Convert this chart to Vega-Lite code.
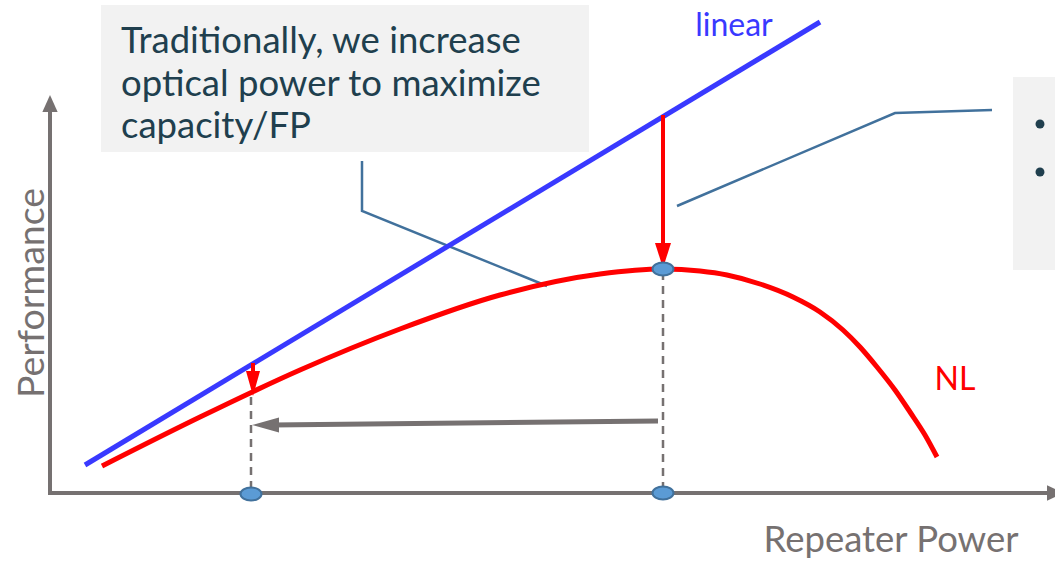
{
  "$schema": "https://vega.github.io/schema/vega-lite/v6.json",
  "width": 1055,
  "height": 561,
  "autosize": {"type": "none"},
  "padding": 0,
  "background": "white",
  "config": {"view": {"stroke": null}},
  "datasets": {
    "boxes": [
      {"x": 101, "x2": 589, "y": 5, "y2": 152},
      {"x": 1013, "x2": 1060, "y": 77, "y2": 270}
    ],
    "boxText": [
      {"x": 121, "y": 53, "text": "Traditionally, we increase"},
      {"x": 121, "y": 96, "text": "optical power to maximize"},
      {"x": 121, "y": 138, "text": "capacity/FP"}
    ],
    "bullets": [
      {"x": 1040, "y": 124},
      {"x": 1040, "y": 172}
    ],
    "callouts": [
      {"id": "a", "order": 1, "x": 362, "y": 161},
      {"id": "a", "order": 2, "x": 362, "y": 211},
      {"id": "a", "order": 3, "x": 547, "y": 286},
      {"id": "b", "order": 1, "x": 677, "y": 206},
      {"id": "b", "order": 2, "x": 895, "y": 113},
      {"id": "b", "order": 3, "x": 992, "y": 110}
    ],
    "axes": [
      {"x": 50, "y": 110, "x2": 50, "y2": 493},
      {"x": 48, "y": 493, "x2": 1052, "y2": 493}
    ],
    "axisHeadUp": [{"x": 50, "y": 95}],
    "axisHeadRight": [{"x": 1064, "y": 493}],
    "dashed": [
      {"x": 251, "y": 397, "y2": 492},
      {"x": 663, "y": 272, "y2": 492}
    ],
    "linear": [
      {"x": 85, "y": 465},
      {"x": 820, "y": 22}
    ],
    "nl": [
      {"x": 102, "y": 466},
      {"x": 200, "y": 417},
      {"x": 300, "y": 370},
      {"x": 400, "y": 329},
      {"x": 500, "y": 295},
      {"x": 600, "y": 274},
      {"x": 663, "y": 269},
      {"x": 700, "y": 271},
      {"x": 727, "y": 275},
      {"x": 760, "y": 284},
      {"x": 793, "y": 297},
      {"x": 820, "y": 312},
      {"x": 843, "y": 330},
      {"x": 860, "y": 347},
      {"x": 877, "y": 367},
      {"x": 895, "y": 390},
      {"x": 910, "y": 412},
      {"x": 925, "y": 435},
      {"x": 937, "y": 457}
    ],
    "redShafts": [
      {"x": 663, "y": 115, "y2": 246},
      {"x": 253, "y": 363, "y2": 375}
    ],
    "redHeadBig": [{"x": 663, "y": 268}],
    "redHeadSmall": [{"x": 253, "y": 396}],
    "grayArrow": [
      {"x": 658, "y": 421},
      {"x": 272, "y": 425}
    ],
    "grayHead": [{"x": 252, "y": 425}],
    "ellipses": [
      {"x": 663, "y": 269},
      {"x": 251, "y": 494},
      {"x": 663, "y": 493}
    ],
    "labels": [
      {"x": 734, "y": 36, "text": "linear", "series": "linear"},
      {"x": 955, "y": 390, "text": "NL", "series": "NL"}
    ],
    "xTitle": [{"x": 891, "y": 552, "text": "Repeater Power"}],
    "yTitle": [{"x": 44, "y": 293, "text": "Performance"}]
  },
  "encoding": {
    "x": {"field": "x", "type": "quantitative", "axis": null, "scale": {"domain": [0, 1055], "nice": false, "zero": false}},
    "y": {"field": "y", "type": "quantitative", "axis": null, "scale": {"domain": [0, 561], "nice": false, "zero": false, "reverse": true}}
  },
  "layer": [
    {
      "data": {"name": "boxes"},
      "mark": {"type": "rect", "fill": "#F2F2F2"},
      "encoding": {"x2": {"field": "x2"}, "y2": {"field": "y2"}}
    },
    {
      "data": {"name": "boxText"},
      "mark": {"type": "text", "align": "left", "baseline": "alphabetic", "font": "Lato", "fontSize": 36.5, "color": "#203F4E"},
      "encoding": {"text": {"field": "text"}}
    },
    {
      "data": {"name": "bullets"},
      "mark": {"type": "point", "shape": "circle", "filled": true, "size": 80, "color": "#203F4E", "opacity": 1}
    },
    {
      "data": {"name": "callouts"},
      "mark": {"type": "line", "color": "#41719C", "strokeWidth": 2.5},
      "encoding": {"detail": {"field": "id"}, "order": {"field": "order", "type": "quantitative"}}
    },
    {
      "data": {"name": "axes"},
      "mark": {"type": "rule", "color": "#767171", "strokeWidth": 4},
      "encoding": {"x2": {"field": "x2"}, "y2": {"field": "y2"}}
    },
    {
      "data": {"name": "axisHeadUp"},
      "mark": {"type": "point", "shape": "M0,0 L-0.45,1 L0.45,1 Z", "size": 1156, "filled": true, "color": "#767171", "opacity": 1}
    },
    {
      "data": {"name": "axisHeadRight"},
      "mark": {"type": "point", "shape": "M0,0 L-1,-0.45 L-1,0.45 Z", "size": 1156, "filled": true, "color": "#767171", "opacity": 1}
    },
    {
      "data": {"name": "dashed"},
      "mark": {"type": "rule", "color": "#767171", "strokeWidth": 2.5, "strokeDash": [8, 6]},
      "encoding": {"y2": {"field": "y2"}}
    },
    {
      "data": {"name": "linear"},
      "mark": {"type": "line", "color": "#3939FF", "strokeWidth": 5}
    },
    {
      "data": {"name": "nl"},
      "mark": {"type": "line", "color": "#FF0000", "strokeWidth": 5, "interpolate": "monotone"}
    },
    {
      "data": {"name": "redShafts"},
      "mark": {"type": "rule", "color": "#FF0000", "strokeWidth": 4},
      "encoding": {"y2": {"field": "y2"}}
    },
    {
      "data": {"name": "redHeadBig"},
      "mark": {"type": "point", "shape": "M0,0 L-0.32,-1 L0.32,-1 Z", "size": 2500, "filled": true, "color": "#FF0000", "opacity": 1}
    },
    {
      "data": {"name": "redHeadSmall"},
      "mark": {"type": "point", "shape": "M0,0 L-0.28,-1 L0.28,-1 Z", "size": 2500, "filled": true, "color": "#FF0000", "opacity": 1}
    },
    {
      "data": {"name": "grayArrow"},
      "mark": {"type": "line", "color": "#767171", "strokeWidth": 5}
    },
    {
      "data": {"name": "grayHead"},
      "mark": {"type": "point", "shape": "M0,0 L1,-0.28 L1,0.28 Z", "size": 2916, "filled": true, "color": "#767171", "opacity": 1}
    },
    {
      "data": {"name": "ellipses"},
      "mark": {"type": "point", "shape": "M-1,0 A1,0.62 0 1,0 1,0 A1,0.62 0 1,0 -1,0 Z", "size": 441, "filled": true, "fill": "#5B9BD5", "stroke": "#41719C", "strokeWidth": 2, "opacity": 1, "fillOpacity": 1, "strokeOpacity": 1}
    },
    {
      "data": {"name": "labels"},
      "mark": {"type": "text", "align": "center", "baseline": "alphabetic", "font": "Lato", "fontSize": 32},
      "encoding": {
        "text": {"field": "text"},
        "color": {"field": "series", "type": "nominal", "legend": null, "scale": {"domain": ["linear", "NL"], "range": ["#3939FF", "#FF0000"]}}
      }
    },
    {
      "data": {"name": "xTitle"},
      "mark": {"type": "text", "align": "center", "baseline": "alphabetic", "font": "Lato", "fontSize": 36.5, "color": "#767171"},
      "encoding": {"text": {"field": "text"}}
    },
    {
      "data": {"name": "yTitle"},
      "mark": {"type": "text", "align": "center", "baseline": "alphabetic", "angle": 270, "font": "Lato", "fontSize": 37.5, "color": "#767171"},
      "encoding": {"text": {"field": "text"}}
    }
  ]
}
